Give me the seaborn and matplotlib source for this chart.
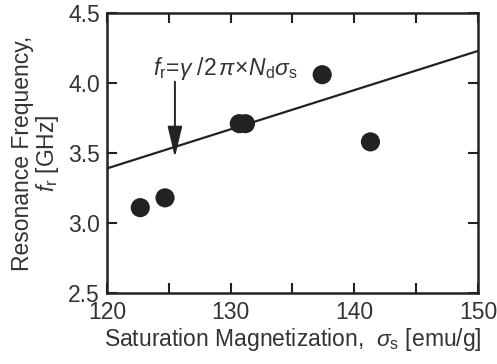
import numpy as np
import pandas as pd
import matplotlib
matplotlib.use('Agg')
import matplotlib.pyplot as plt
import seaborn as sns

# measured points
sigma_s = [122.7, 124.7, 130.7, 131.2, 137.4, 141.3]
f_r = [3.11, 3.18, 3.71, 3.71, 4.06, 3.58]

# theoretical line endpoints
line_x = [120, 150]
line_y = [3.39, 4.23]

xticks = [120, 130, 140, 150]
yticks = [2.5, 3.0, 3.5, 4.0, 4.5]

sns.set_style('ticks')
plt.rcParams['font.family'] = ['Liberation Sans', 'DejaVu Sans']
plt.rcParams['mathtext.fontset'] = 'custom'
plt.rcParams['mathtext.rm'] = 'Liberation Sans'
plt.rcParams['mathtext.it'] = 'Liberation Sans:italic'
plt.rcParams['mathtext.bf'] = 'Liberation Sans:bold'

ink = '#222222'
txt = '#333333'
fs = 16.5

df = pd.DataFrame({'sigma': sigma_s, 'fr': f_r})
ln = pd.DataFrame({'x': line_x, 'y': line_y})

fig, ax = plt.subplots(figsize=(4.97, 3.64), dpi=100)
fig.subplots_adjust(left=0.215, right=0.962, top=0.964, bottom=0.195)

sns.lineplot(data=ln, x='x', y='y', ax=ax, color=ink, lw=1.6)
sns.scatterplot(data=df, x='sigma', y='fr', ax=ax, color=ink, s=190,
                edgecolor='none', zorder=3)

ax.annotate('', xy=(125.5, 3.47), xytext=(125.5, 4.01),
            arrowprops=dict(arrowstyle='-|>,head_length=1.9,head_width=0.45',
                            color=ink, lw=1.4, shrinkA=0, shrinkB=0))
ax.text(123.7, 4.06, r'$f_{\mathrm{r}}\!=\!\gamma\;/2\,\pi\!\times\! N_{\mathrm{d}}\sigma_{\mathrm{s}}$',
        fontsize=fs, color=txt, va='baseline')

ax.set_xlim(120, 150)
ax.set_ylim(2.5, 4.5)
ax.set_xticks(xticks)
ax.set_yticks(yticks)
ax.set_xticks([125, 135, 145], minor=True)
ax.set_yticklabels([f'{v:.1f}' for v in yticks])
ax.tick_params(which='both', direction='in', top=True, right=True,
               width=1.5, color=ink, labelsize=fs, labelcolor=txt, length=7)
ax.tick_params(axis='x', pad=6)
ax.tick_params(axis='y', pad=5)
for s in ax.spines.values():
    s.set_linewidth(1.8)
    s.set_color(ink)

ax.set_xlabel(r'Saturation Magnetization,  $\sigma_{\mathrm{s}}$ [emu/g]',
              fontsize=fs, color=txt, labelpad=1)
ax.set_ylabel('Resonance Frequency,\n' + r'$f_{\mathrm{r}}$ [GHz]',
              fontsize=fs, color=txt, labelpad=5, linespacing=1.0)

plt.savefig('out.png', dpi=100)
